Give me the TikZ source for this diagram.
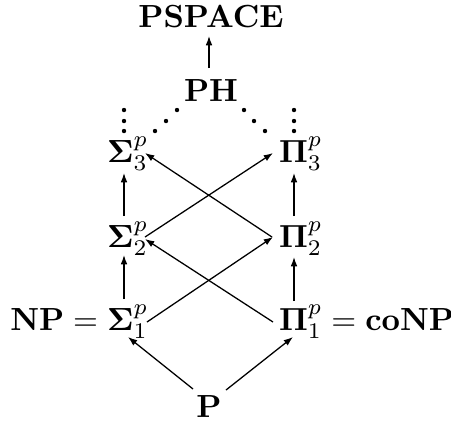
\documentclass[tikz,border=0pt]{standalone}
\usetikzlibrary{arrows.meta,calc}
\begin{document}
\begin{tikzpicture}[x=0.3125pt,y=-0.3125pt,
  cls/.style={inner sep=0pt,outer sep=0pt},
  arr/.style={line width=0.4pt,-{Latex[length=2.9pt,width=2.1pt]}},
  dotc/.style={fill=black}]
\useasboundingbox (0,0) rectangle (451,425);
% nodes
\node[cls,anchor=base] (pspace) at (211,27) {$\mathbf{PSPACE}$};
\node[cls,anchor=base] (ph) at (211,101) {$\mathbf{PH}$};
\node[cls,anchor=base west] (s3) at (107,162) {$\mathbf{\Sigma}^p_3$};
\node[cls,anchor=base west] (p3) at (279,162) {$\mathbf{\Pi}^p_3$};
\node[cls,anchor=base west] (s2) at (107,247) {$\mathbf{\Sigma}^p_2$};
\node[cls,anchor=base west] (p2) at (279,247) {$\mathbf{\Pi}^p_2$};
\node[cls,anchor=base west] (s1) at (107,330) {$\mathbf{\Sigma}^p_1$};
\node[cls,anchor=base east] (np) at (s1.base west) {$\mathbf{NP}={}$};
\node[cls,anchor=base west] (p1) at (279,330) {$\mathbf{\Pi}^p_1$};
\node[cls,anchor=base west] (conp) at (p1.base east) {${}=\mathbf{coNP}$};
\node[cls,anchor=base] (p) at (209,417) {$\mathbf{P}$};
% dots
\foreach \dx/\dy in {17/-52,17/-41,17/-31,48/-31,59/-41,70/-52}
  \fill[dotc] ($(s3.base west)+(\dx,\dy)$) circle (2.2);
\foreach \dx/\dy in {15/-52,15/-41,15/-31,-14/-31,-25/-41,-35/-52}
  \fill[dotc] ($(p3.base west)+(\dx,\dy)$) circle (2.2);
% arrows
\draw[arr] ($(ph.base)+(-2,-33)$) -- ($(pspace.base)+(-2,9)$);
\draw[arr] ($(s2.base west)+(17,-31)$) -- ($(s3.base west)+(17,11)$);
\draw[arr] ($(p2.base west)+(15,-31)$) -- ($(p3.base west)+(15,11)$);
\draw[arr] ($(s2.base west)+(38,-10)$) -- ($(p3.base west)+(-6,-9)$);
\draw[arr] ($(p2.base west)+(-7,-10)$) -- ($(s3.base west)+(38,-9)$);
\draw[arr] ($(s1.base west)+(40,-8)$) -- ($(p2.base west)+(-6,-10)$);
\draw[arr] ($(p1.base west)+(-6,-8)$) -- ($(s2.base west)+(38,-8)$);
\draw[arr] ($(s1.base west)+(17,-31)$) -- ($(s2.base west)+(17,8)$);
\draw[arr] ($(p1.base west)+(15,-29)$) -- ($(p2.base west)+(15,10)$);
\draw[arr] ($(p.base)+(-16,-28)$) -- ($(s1.base west)+(21,7)$);
\draw[arr] ($(p.base)+(17,-27)$) -- ($(p1.base west)+(14,7)$);
\end{tikzpicture}
\end{document}
